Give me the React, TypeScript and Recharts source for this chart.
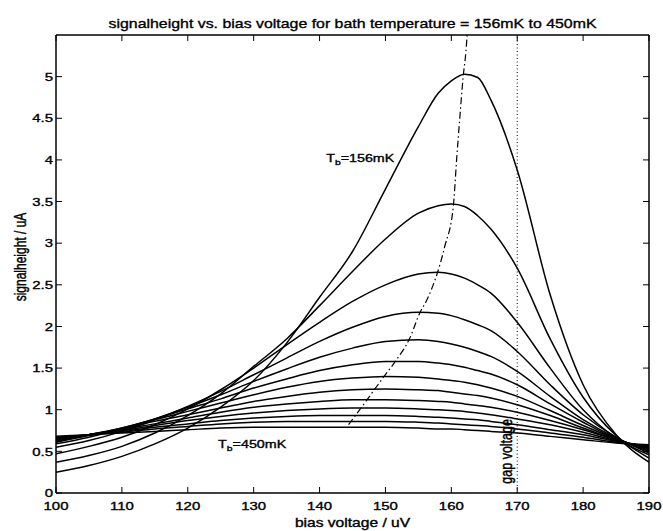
import React from 'react'
import { LineChart, Line, XAxis, YAxis, ReferenceLine, ReferenceDot, Label } from 'recharts'

// bias voltage (uV) at which the curves are sampled
const biasVoltage = [100, 105, 110, 115, 120, 125, 130, 135, 140, 145, 150, 155, 158, 160, 162, 164, 166, 170, 175, 180, 185, 190]

// signalheight (uA), from Tb = 156mK (curve01) up to Tb = 450mK (curve13)
const curve01 = [0.25, 0.33, 0.44, 0.59, 0.78, 1.03, 1.35, 1.8, 2.35, 2.9, 3.65, 4.4, 4.8, 4.95, 5.03, 4.99, 4.72, 3.88, 2.38, 1.3, 0.7, 0.37]
const curve02 = [0.37, 0.45, 0.56, 0.72, 0.93, 1.19, 1.52, 1.85, 2.25, 2.66, 3.05, 3.36, 3.45, 3.47, 3.44, 3.33, 3.17, 2.7, 1.85, 1.15, 0.69, 0.42]
const curve03 = [0.47, 0.56, 0.67, 0.82, 1.01, 1.24, 1.5, 1.78, 2.05, 2.3, 2.5, 2.63, 2.65, 2.63, 2.58, 2.5, 2.4, 2.05, 1.5, 1.0, 0.66, 0.46]
const curve04 = [0.55, 0.63, 0.74, 0.88, 1.04, 1.22, 1.42, 1.62, 1.82, 1.99, 2.12, 2.17, 2.16, 2.13, 2.08, 2.02, 1.95, 1.7, 1.3, 0.94, 0.67, 0.48]
const curve05 = [0.59, 0.67, 0.77, 0.89, 1.03, 1.18, 1.34, 1.49, 1.63, 1.74, 1.82, 1.84, 1.82, 1.79, 1.75, 1.7, 1.64, 1.46, 1.16, 0.88, 0.66, 0.5]
const curve06 = [0.61, 0.69, 0.78, 0.89, 1.01, 1.13, 1.26, 1.37, 1.47, 1.54, 1.58, 1.58, 1.56, 1.54, 1.51, 1.47, 1.43, 1.3, 1.07, 0.85, 0.65, 0.51]
const curve07 = [0.62, 0.7, 0.78, 0.88, 0.98, 1.08, 1.18, 1.27, 1.34, 1.38, 1.4, 1.39, 1.37, 1.35, 1.33, 1.3, 1.26, 1.16, 0.99, 0.81, 0.65, 0.52]
const curve08 = [0.63, 0.7, 0.77, 0.86, 0.94, 1.02, 1.1, 1.16, 1.21, 1.24, 1.25, 1.24, 1.23, 1.21, 1.19, 1.17, 1.14, 1.06, 0.93, 0.78, 0.64, 0.53]
const curve09 = [0.64, 0.7, 0.76, 0.83, 0.9, 0.97, 1.03, 1.07, 1.1, 1.12, 1.12, 1.11, 1.1, 1.09, 1.07, 1.05, 1.03, 0.97, 0.87, 0.76, 0.64, 0.54]
const curve10 = [0.65, 0.7, 0.75, 0.81, 0.87, 0.92, 0.96, 0.99, 1.01, 1.02, 1.02, 1.01, 1.0, 0.99, 0.98, 0.96, 0.94, 0.89, 0.82, 0.73, 0.63, 0.55]
const curve11 = [0.66, 0.7, 0.74, 0.79, 0.83, 0.87, 0.9, 0.92, 0.93, 0.93, 0.93, 0.92, 0.91, 0.9, 0.89, 0.88, 0.86, 0.82, 0.76, 0.7, 0.62, 0.56]
const curve12 = [0.67, 0.7, 0.73, 0.77, 0.8, 0.83, 0.85, 0.86, 0.86, 0.86, 0.86, 0.85, 0.84, 0.83, 0.82, 0.81, 0.8, 0.77, 0.72, 0.67, 0.61, 0.57]
const curve13 = [0.68, 0.7, 0.72, 0.74, 0.76, 0.78, 0.79, 0.79, 0.79, 0.79, 0.79, 0.78, 0.77, 0.77, 0.76, 0.75, 0.74, 0.72, 0.68, 0.64, 0.6, 0.58]

const curves = [curve01, curve02, curve03, curve04, curve05, curve06, curve07, curve08, curve09, curve10, curve11, curve12, curve13]

// dash-dot line through the maxima
const peakX = [144.4, 146.1, 149.7, 151.5, 153.7, 155.2, 156.3, 159.0, 160.3, 160.8, 161.3, 161.8, 162.2, 162.4]
const peakY = [0.82, 1.0, 1.39, 1.58, 1.86, 2.16, 2.32, 2.96, 3.44, 4.0, 4.52, 5.0, 5.29, 5.5]

const xTicks = [100, 110, 120, 130, 140, 150, 160, 170, 180, 190]
const yTicks = [0, 0.5, 1, 1.5, 2, 2.5, 3, 3.5, 4, 4.5, 5]
const xMin = 100
const xMax = 190
const yMax = 5.5
const gapVoltage = 170
// the box edges are set a hair inside the domain so they are never dropped as out of range
const EDGE = 0.0005

const FONT = '"Liberation Sans", Arial, Helvetica, sans-serif'
const SX = 1.3 // the scanned figure is stretched sideways
const INK = { fill: '#000', stroke: '#000', strokeWidth: 0.35 }

const toPoints = (ys: number[]) => biasVoltage.map((x, i) => ({ x, y: ys[i] }))
const peakLine = peakX.map((x, i) => ({ x, y: peakY[i] }))

const XTick = (p: any) => (
  <text transform={`translate(${p.x},${p.y}) scale(${SX},1)`} textAnchor="middle" dy="0.71em"
    fontSize={11.5} fontFamily={FONT} {...INK}>{p.payload.value}</text>
)
const YTick = (p: any) => (
  <text transform={`translate(${p.x},${p.y}) scale(${SX},1)`} textAnchor="end" dy="0.36em"
    fontSize={11.5} fontFamily={FONT} {...INK}>{p.payload.value}</text>
)

const TbText = ({ cx, cy, temp }: { cx: number; cy: number; temp: string }) => (
  <text transform={`translate(${cx},${cy}) scale(${SX},1)`} fontSize={11} fontFamily={FONT} {...INK}>
    T<tspan fontSize={8} dy={3} {...INK}>b</tspan><tspan dy={-3} {...INK}>={temp}</tspan>
  </text>
)

// inward tick marks on the top and right border, drawn from the scaled point of a reference dot
const TopTick = (p: any) => <line x1={p.cx} y1={p.cy} x2={p.cx} y2={p.cy + 6} stroke="#000" strokeWidth={1} />
const RightTick = (p: any) => <line x1={p.cx} y1={p.cy} x2={p.cx - 6} y2={p.cy} stroke="#000" strokeWidth={1} />

const axisStyle = { stroke: '#000', strokeWidth: 1.5 }

export default function App() {
  return (
    <div style={{ position: 'absolute', left: 0, top: 0, background: '#fff' }}>
      <LineChart width={663} height={531} margin={{ top: 35, right: 14, bottom: 0, left: 0 }}>
        <XAxis dataKey="x" type="number" domain={[xMin, xMax]} ticks={xTicks} allowDataOverflow
          height={38} tickSize={-6} tickMargin={15} tick={XTick}
          axisLine={axisStyle} tickLine={{ stroke: '#000' }}>
          <Label content={() => (
            <text transform={`translate(352.5,527) scale(${SX},1)`} textAnchor="middle"
              fontSize={12} fontFamily={FONT} {...INK}>bias voltage / uV</text>
          )} />
        </XAxis>
        <YAxis type="number" domain={[0, yMax]} ticks={yTicks} width={56} tickSize={-6} tickMargin={9}
          allowDataOverflow tick={YTick} axisLine={axisStyle} tickLine={{ stroke: '#000' }}>
          <Label content={() => (
            <text transform={`translate(20,257) rotate(-90) scale(1,${SX})`} textAnchor="middle"
              dominantBaseline="central" fontSize={12} fontFamily={FONT} {...INK}>signalheight / uA</text>
          )} />
          <Label content={() => (
            <text x={352.5} y={27.5} textAnchor="middle" textLength={488} lengthAdjust="spacingAndGlyphs"
              fontSize={13.5} fontFamily={FONT} {...INK}>
              signalheight vs. bias voltage for bath temperature = 156mK to 450mK
            </text>
          )} />
        </YAxis>

        {/* top and right border of the box, with inward ticks */}
        <ReferenceLine y={yMax - EDGE} stroke="#000" strokeWidth={1.5} />
        <ReferenceLine x={xMax - EDGE} stroke="#000" strokeWidth={1.5} />
        {xTicks.map((t) => (
          <ReferenceDot key={'tx' + t} x={Math.min(Math.max(t, xMin + EDGE), xMax - EDGE)} y={yMax - EDGE}
            r={1} shape={TopTick} />
        ))}
        {yTicks.map((t) => (
          <ReferenceDot key={'ty' + t} x={xMax - EDGE} y={Math.max(t, EDGE)} r={1} shape={RightTick} />
        ))}

        <ReferenceLine x={gapVoltage} stroke="#000" strokeWidth={1} strokeDasharray="1 2.5" />

        {curves.map((c, i) => (
          <Line key={i} data={toPoints(c)} dataKey="y" type="monotone" stroke="#000"
            strokeWidth={1.5} dot={false} isAnimationActive={false} />
        ))}
        <Line data={peakLine} dataKey="y" type="monotone" stroke="#000" strokeWidth={1.2}
          strokeDasharray="7 3 1.5 3" dot={false} isAnimationActive={false} />

        <ReferenceDot x={141} y={3.98} r={0} shape={(p: any) => <TbText cx={p.cx} cy={p.cy} temp="156mK" />} />
        <ReferenceDot x={124.6} y={0.54} r={0} shape={(p: any) => <TbText cx={p.cx} cy={p.cy} temp="450mK" />} />
        <ReferenceDot x={168.4} y={0.5} r={0} shape={(p: any) => (
          <text transform={`translate(${p.cx},${p.cy}) rotate(-90) scale(1,${SX})`} textAnchor="middle"
            dominantBaseline="central" fontSize={12.5} fontFamily={FONT} {...INK}>gap voltage</text>
        )} />
      </LineChart>
    </div>
  )
}
